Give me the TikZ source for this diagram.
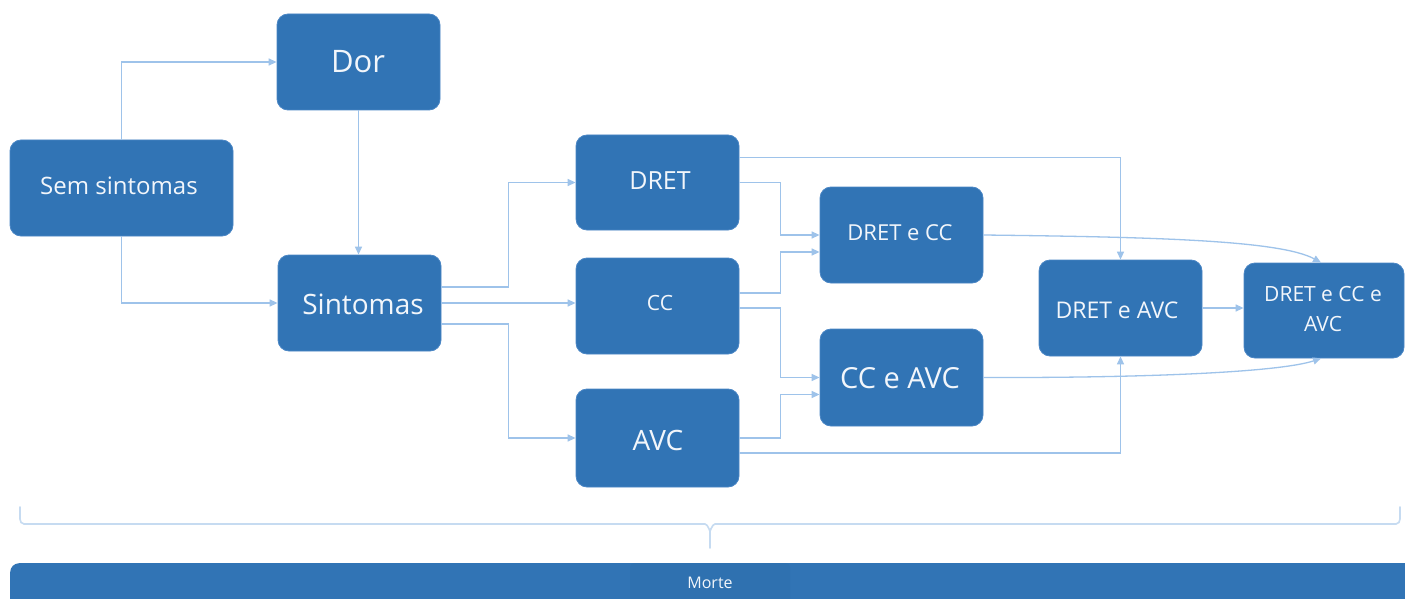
\documentclass[tikz,border=0pt]{standalone}
\usepackage{fontspec}
\setmainfont{Open Sans}
\usetikzlibrary{arrows.meta,calc}
\definecolor{boxblue}{HTML}{3174B5}
\definecolor{boxedge}{HTML}{4A86C5}
\definecolor{linkblue}{HTML}{9EC3EA}
\definecolor{bracecol}{HTML}{C6DBF1}
\definecolor{txtcol}{HTML}{F2F6FB}
\definecolor{mortecol}{HTML}{2F71B0}
\tikzset{
  box/.style={draw=boxedge, line width=0.8pt, fill=boxblue, rounded corners=11pt,
    minimum width=163pt, minimum height=96pt, inner sep=0pt, text=txtcol, align=center},
  fs/.style={font=\fontsize{#1}{#1}\selectfont},
  conn/.style={draw=linkblue, line width=1.3pt,
    -{Triangle[length=8pt,width=7pt]}},
}
\begin{document}
\begin{tikzpicture}[x=1pt,y=-1pt]
\useasboundingbox (0,0) rectangle (1405,599);
\clip (0,0) rectangle (1405,599);
\fill[white] (0,0) rectangle (1405,599);

% nodes
\node[box, minimum width=223pt] (sem) at (121.5,188) {};
\node[fs=24, text=txtcol] at (119,186) {Sem sintomas};
\node[box] (dor) at (358.5,62) {};
\node[fs=31, text=txtcol] at (358,62) {Dor};
\node[box] (sint) at (359.5,303) {};
\node[fs=28, text=txtcol] at (363,304) {Sintomas};
\node[box, minimum height=95pt] (dret) at (657.5,182.5) {};
\node[fs=25, text=txtcol] at (660,181) {DRET};
\node[box] (cc) at (657.5,306) {};
\node[fs=21, text=txtcol] at (660,303) {CC};
\node[box, minimum height=98pt] (avc) at (657.5,438) {};
\node[fs=28, text=txtcol] at (658,440) {AVC};
\node[box] (dcc) at (901.5,235) {};
\node[fs=22, text=txtcol] at (900,233) {DRET e CC};
\node[box, minimum height=97pt] (cav) at (901.5,377.5) {};
\node[fs=29, text=txtcol] at (900,378) {CC e AVC};
\node[box] (dav) at (1120.5,308) {};
\node[fs=23, text=txtcol] at (1117,310) {DRET e AVC};
\node[box, minimum width=160pt, minimum height=95pt] (fin) at (1324,310.5) {};
\node[fs=21, text=txtcol, align=center] at (1323,309) {DRET e CC e\\[9pt]AVC};

% Morte bar
\node[fill=boxblue, rounded corners=9pt, minimum width=1420pt, minimum height=60pt,
  inner sep=0pt, anchor=north west] (bar) at (10,563) {};
\node[fill=mortecol, minimum width=160pt, minimum height=40pt, inner sep=0pt,
  anchor=north, rounded corners=4pt] (mortebox) at (710,563) {};
\node[fs=16, text=txtcol] (morte) at (710,583) {Morte};

% connectors
\draw[conn] (sem.north) |- (dor.west);
\draw[conn] (sem.south) |- (sint.west);
\draw[conn] (dor.south) -- (dor.south |- sint.north);
\draw[conn] ([yshift=16pt]sint.east) -- ++(67,0) |- (dret.west);
\draw[conn] (sint.east) -- (sint.east -| cc.west);
\draw[conn] ([yshift=-21pt]sint.east) -- ++(67,0) |- (avc.west);
\draw[conn] (dret.east) -- ++(41,0) |- (dcc.west);
\draw[conn] ([yshift=13pt]cc.east) -- ++(41,0) |- ([yshift=-17pt]dcc.west);
\draw[conn] ([yshift=-2pt]cc.east) -- ++(41,0) |- (cav.west);
\draw[conn] (avc.east) -- ++(41,0) |- ([yshift=-17pt]cav.west);
\draw[conn] ([yshift=25pt]dret.east) -| (dav.north);
\draw[conn] ([yshift=-15pt]avc.east) -| (dav.south);
\draw[conn] (dav.east) -- (dav.east -| fin.west);
\draw[conn] (dcc.east) .. controls (1150,237) and (1280,240) .. ([xshift=-3pt]fin.north);
\draw[conn] (cav.east) .. controls (1150,378) and (1280,372) .. ([xshift=-3pt]fin.south);

% brace
\coordinate (bl) at (20,507);
\coordinate (br) at (1400,507);
\coordinate (bt) at (710,548);
\draw[bracecol, line width=1.6pt, line cap=round]
  (bl) -- (20,519) to[out=-90,in=180] (24,524) -- (705,524)
  to[out=0,in=-90] (710,530) -- (bt);
\draw[bracecol, line width=1.6pt, line cap=round]
  (710,530) to[out=-90,in=180] (715,524) -- (1396,524)
  to[out=0,in=-90] (1400,519) -- (br);
\end{tikzpicture}
\end{document}
